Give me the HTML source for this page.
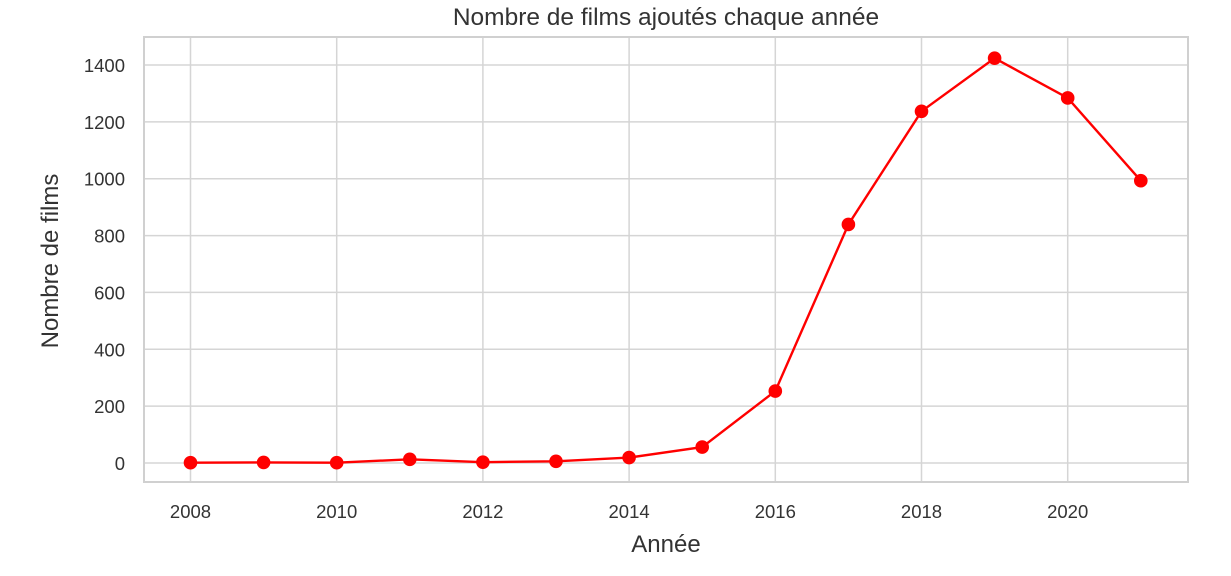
<!DOCTYPE html>
<html><head><meta charset="utf-8"><style>
body{margin:0;background:#fff;}
svg text{font-family:"Liberation Sans",sans-serif;fill:#333;}
</style></head><body>
<svg id="chart" width="1231" height="571">
<text x="666" y="25" text-anchor="middle" font-size="24.5">Nombre de films ajoutés chaque année</text>
<g id="grid"></g>
<rect x="144" y="37" width="1044" height="445" fill="none" stroke="#d0d0d0" stroke-width="2"/>
<g id="marks"></g>
<text x="666" y="552" text-anchor="middle" font-size="24">Année</text>
<text transform="translate(58,261) rotate(-90)" text-anchor="middle" font-size="24">Nombre de films</text>
</svg>
<script>
const years=[2008,2009,2010,2011,2012,2013,2014,2015,2016,2017,2018,2019,2020,2021];
const counts=[1,2,1,13,3,6,19,56,253,839,1237,1424,1284,993];
const yTicks=[0,200,400,600,800,1000,1200,1400];
const xTicks=[2008,2010,2012,2014,2016,2018,2020];
const NS="http://www.w3.org/2000/svg";
const x=v=>190.5+(v-2008)*73.1;
const y=v=>463-v*(398/1400);
const grid=document.getElementById('grid'),marks=document.getElementById('marks');
function mk(tag,attrs,parent){const e=document.createElementNS(NS,tag);for(const k in attrs)e.setAttribute(k,attrs[k]);parent.appendChild(e);return e;}
yTicks.forEach(t=>{
  const l=mk('line',{x1:144,x2:1188,y1:y(t),y2:y(t),stroke:'#d5d5d5','stroke-width':1.5},grid);
  
  
  const tx=mk('text',{x:125,y:y(t)+7,'text-anchor':'end','font-size':18.5},grid);
  tx.textContent=t;
  
  
});
xTicks.forEach(t=>{
  const l=mk('line',{x1:x(t),x2:x(t),y1:37,y2:482,stroke:'#d5d5d5','stroke-width':1.5},grid);
  
  
  const tx=mk('text',{x:x(t),y:518,'text-anchor':'middle','font-size':18.5},grid);
  tx.textContent=t;
  
  
});
const pl=mk('polyline',{points:years.map((v,i)=>x(v)+','+y(counts[i])).join(' '),fill:'none',stroke:'#ff0000','stroke-width':2.4},marks);


years.forEach((v,i)=>{
  const c=mk('circle',{cx:x(v),cy:y(counts[i]),r:6.8,fill:'#ff0000'},marks);
  
  
});
</script>
</body></html>
